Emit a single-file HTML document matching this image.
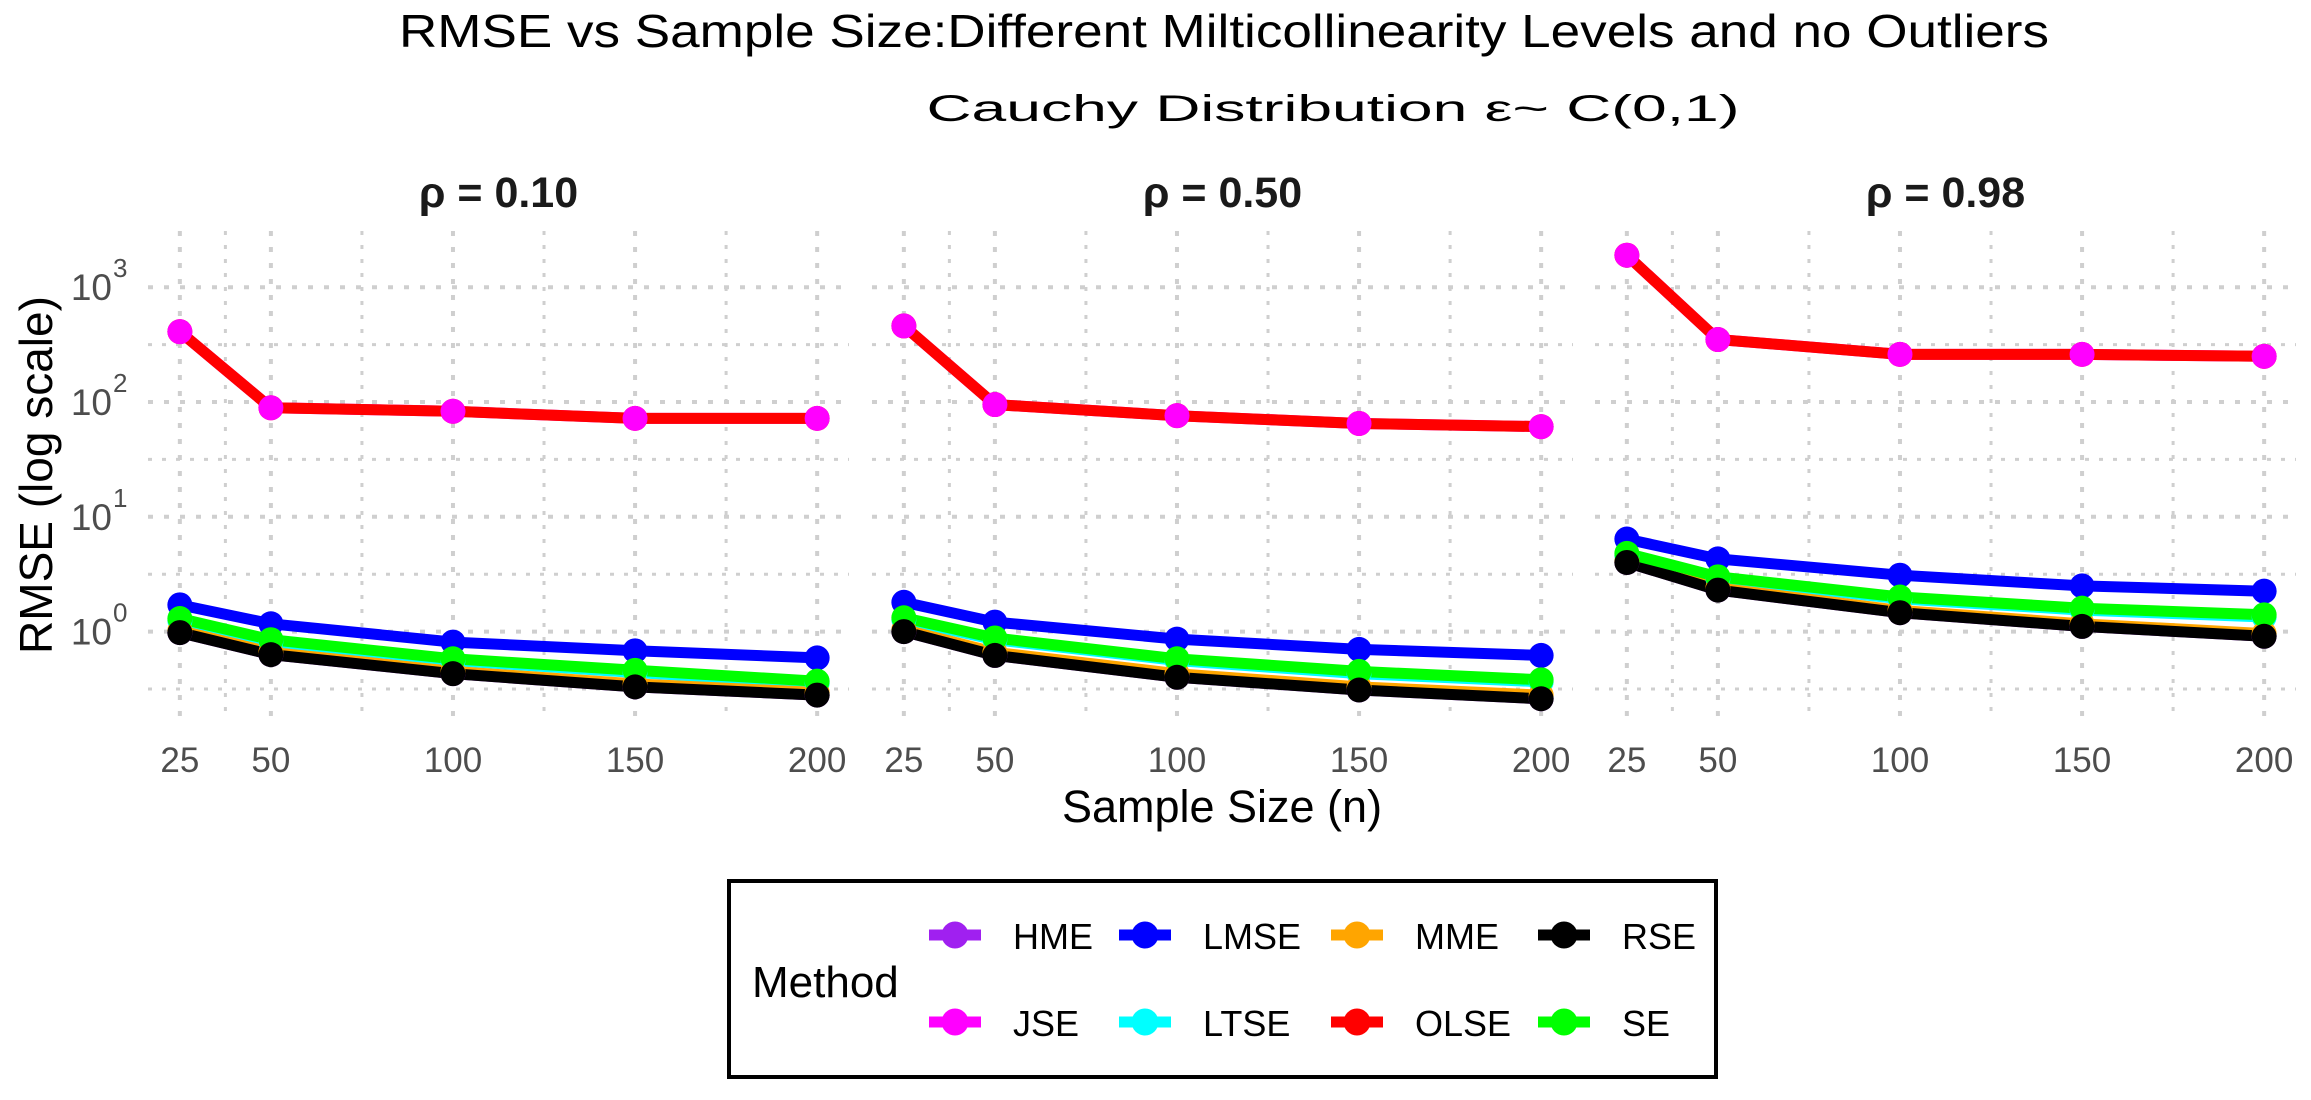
<!DOCTYPE html>
<html><head><meta charset="utf-8"><style>
html,body{margin:0;padding:0;background:#fff;}
svg{display:block;font-family:"Liberation Sans",sans-serif;}
</style></head><body>
<svg id="chart" width="2311" height="1100" viewBox="0 0 2311 1100" xmlns="http://www.w3.org/2000/svg">
<text x="1224" y="47" font-size="46" text-anchor="middle" textLength="1650" lengthAdjust="spacingAndGlyphs">RMSE vs Sample Size:Different Milticollinearity Levels and no Outliers</text>
<text x="1333" y="121" font-size="37" text-anchor="middle" textLength="813" lengthAdjust="spacingAndGlyphs">Cauchy Distribution ε~ C(0,1)</text>
<text transform="translate(52,475) rotate(-90)" font-size="46" text-anchor="middle">RMSE (log scale)</text>
<text x="1222" y="822" font-size="45" text-anchor="middle">Sample Size (n)</text>
<g id="panels"></g>
<g id="legend"></g>
</svg>
<script>
const sampleSizes = [25, 50, 100, 150, 200];
const panelTitles = ["ρ = 0.10", "ρ = 0.50", "ρ = 0.98"];
const methods = ["HME","JSE","LMSE","LTSE","MME","OLSE","RSE","SE"];
const methodColors = {HME:"#a020f0",JSE:"#ff00ff",LMSE:"#0000ff",LTSE:"#00ffff",MME:"#ffa500",OLSE:"#ff0000",RSE:"#000000",SE:"#00ff00"};
const yTickExps = [0, 1, 2, 3];

const jse1 = [410, 89, 83, 72, 72];
const lmse1 = [1.71, 1.17, 0.81, 0.68, 0.59];
const se1 = [1.3, 0.85, 0.58, 0.46, 0.37];
const ltse1 = [1.25, 0.82, 0.56, 0.44, 0.355];
const rse1 = [0.98, 0.63, 0.43, 0.33, 0.28];
const mme1 = [1.02, 0.66, 0.45, 0.35, 0.295];
const hme1 = [0.98, 0.63, 0.43, 0.33, 0.28];

const jse2 = [460, 95, 76, 65, 61];
const lmse2 = [1.8, 1.21, 0.86, 0.70, 0.62];
const se2 = [1.32, 0.88, 0.58, 0.45, 0.38];
const ltse2 = [1.27, 0.85, 0.56, 0.43, 0.365];
const rse2 = [1.0, 0.62, 0.40, 0.31, 0.26];
const mme2 = [1.04, 0.66, 0.43, 0.33, 0.28];
const hme2 = [1.0, 0.62, 0.40, 0.31, 0.26];

const jse3 = [1900, 350, 260, 260, 250];
const lmse3 = [6.4, 4.3, 3.1, 2.5, 2.25];
const se3 = [4.8, 3.0, 2.0, 1.6, 1.4];
const ltse3 = [4.6, 2.9, 1.93, 1.54, 1.34];
const rse3 = [4.0, 2.3, 1.46, 1.11, 0.91];
const mme3 = [4.1, 2.4, 1.53, 1.17, 0.96];
const hme3 = [4.0, 2.3, 1.46, 1.11, 0.91];

const panelData = [
 {HME:hme1,JSE:jse1,LMSE:lmse1,LTSE:ltse1,MME:mme1,OLSE:jse1,RSE:rse1,SE:se1},
 {HME:hme2,JSE:jse2,LMSE:lmse2,LTSE:ltse2,MME:mme2,OLSE:jse2,RSE:rse2,SE:se2},
 {HME:hme3,JSE:jse3,LMSE:lmse3,LTSE:ltse3,MME:mme3,OLSE:jse3,RSE:rse3,SE:se3}
];

const NS = "http://www.w3.org/2000/svg";
function mk(tag, attrs, parent){const e=document.createElementNS(NS,tag);for(const k in attrs)e.setAttribute(k,attrs[k]);parent.appendChild(e);return e;}
const panelLefts = [148, 872, 1595];
const panelW = 701, panelTop = 231, panelBottom = 719;
const xMin = 16.25, xMax = 208.75;
function xScale(p, v){return panelLefts[p] + (v - xMin)/(xMax - xMin)*panelW;}
function yScale(v){return 631.6 - Math.log10(v)*114.8;}
const panels = document.getElementById("panels");
const gridStyle = {stroke:"#cfcfcf","stroke-width":4,"stroke-dasharray":"5 11",fill:"none"};
const pointOrder = ["HME","LTSE","MME","LMSE","SE","OLSE","JSE","RSE"];

for(let p=0;p<3;p++){
  const g = mk("g",{},panels);
  
  
  const L = panelLefts[p], R = L+panelW;
  const xMinor = [37.5, 75, 125, 175];
  xMinor.forEach(v=>{const l=mk("line",Object.assign({x1:xScale(p,v),x2:xScale(p,v),y1:panelTop,y2:panelBottom},gridStyle,{"stroke-width":3,"stroke-dasharray":"4 10"}),g);
    });
  [-0.5,0.5,1.5,2.5].forEach(e=>{const y=yScale(Math.pow(10,e));const l=mk("line",Object.assign({x1:L,x2:R,y1:y,y2:y},gridStyle,{"stroke-width":3,"stroke-dasharray":"4 10"}),g);
    });
  sampleSizes.forEach(v=>{const l=mk("line",Object.assign({x1:xScale(p,v),x2:xScale(p,v),y1:panelTop,y2:panelBottom},gridStyle),g);
    });
  yTickExps.forEach(e=>{const y=yScale(Math.pow(10,e));const l=mk("line",Object.assign({x1:L,x2:R,y1:y,y2:y},gridStyle),g);
    });
  const t = mk("text",{x:L+panelW/2,y:207,"font-size":43,"font-weight":"bold","text-anchor":"middle",fill:"#1a1a1a"},g);
  t.textContent = panelTitles[p];
  
  
  sampleSizes.forEach(v=>{const tx=mk("text",{x:xScale(p,v),y:772,"font-size":35,"text-anchor":"middle",fill:"#4d4d4d"},g);
    tx.textContent=String(v);
    
    });
  if(p===0){
    yTickExps.forEach(e=>{const y=yScale(Math.pow(10,e));
      const tx=mk("text",{x:112,y:y+13,"font-size":37,"text-anchor":"end",fill:"#4d4d4d"},g);
      tx.textContent="10";
      
      
      const sp=mk("text",{x:113,y:y-10,"font-size":26,"text-anchor":"start",fill:"#4d4d4d"},g);
      sp.textContent=String(e);
      
      });
  }
  const d = panelData[p];
  methods.forEach(m=>{
    const pts = d[m].map((v,i)=>xScale(p,sampleSizes[i]).toFixed(1)+","+yScale(v).toFixed(1)).join(" ");
    const pl = mk("polyline",{points:pts,fill:"none",stroke:methodColors[m],"stroke-width":11,"stroke-linejoin":"round"},g);
    
    
  });
  pointOrder.forEach(m=>{
    d[m].forEach((v,i)=>{
      const c = mk("circle",{cx:xScale(p,sampleSizes[i]),cy:yScale(v),r:12.5,fill:methodColors[m]},g);
      
      
    });
  });
}
const lg = document.getElementById("legend");
const box = mk("rect",{x:729,y:881,width:987,height:196,fill:"#fff",stroke:"#000","stroke-width":4},lg);


const lt = mk("text",{x:752,y:997,"font-size":44},lg);
lt.textContent="Method";


const legendRows = [["HME","LMSE","MME","RSE"],["JSE","LTSE","OLSE","SE"]];
const colXs = [955, 1145, 1357, 1564];
const rowYs = [935, 1022];
legendRows.forEach((row,ri)=>row.forEach((m,ci)=>{
  const eg = mk("g",{},lg);
  
  
  const cx = colXs[ci], cy = rowYs[ri];
  mk("line",{x1:cx-26,x2:cx+26,y1:cy,y2:cy,stroke:methodColors[m],"stroke-width":11},eg);
  mk("circle",{cx:cx,cy:cy,r:13.5,fill:methodColors[m]},eg);
  const tx = mk("text",{x:cx+58,y:cy+14,"font-size":36},eg);
  tx.textContent=m;
}));
</script>
</body></html>
